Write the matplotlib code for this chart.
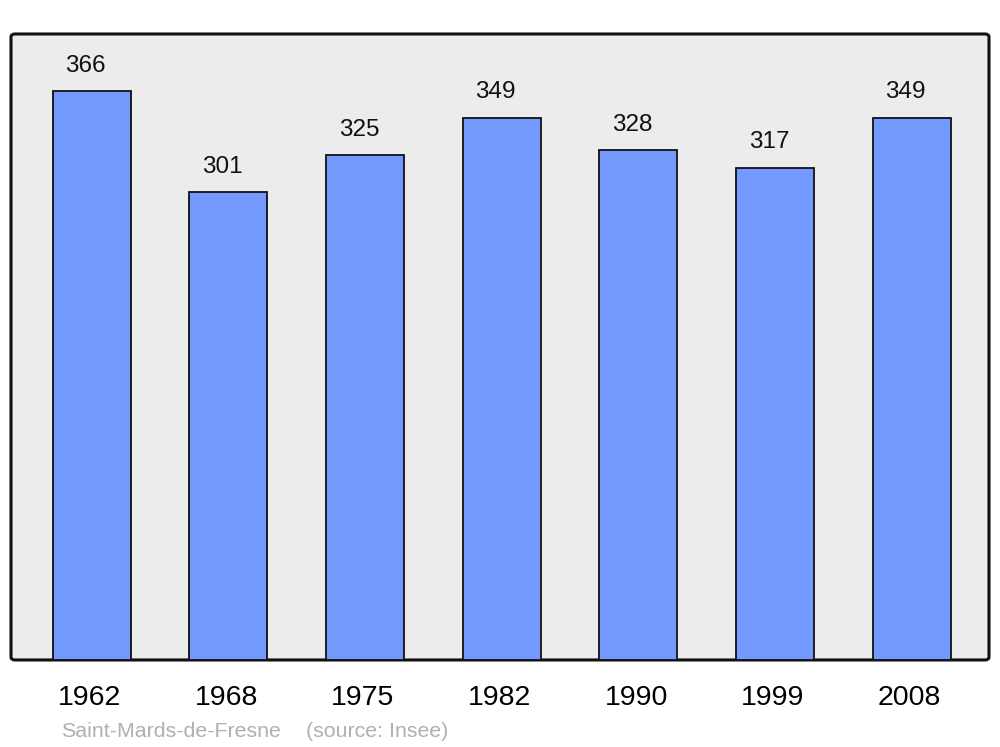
import matplotlib.pyplot as plt
from matplotlib.patches import FancyBboxPatch
import matplotlib.transforms as mtransforms

# ─── DATA ──────────────────────────────────────────────────────────────────
years  = ["1962", "1968", "1975", "1982", "1990", "1999", "2008"]
values = [366, 301, 325, 349, 328, 317, 349]
commune = "Saint-Mards-de-Fresne"
source  = "(source: Insee)"
# ────────────────────────────────────────────────────────────────────────────

plt.rcParams['font.family'] = ['Liberation Sans', 'DejaVu Sans']

fig = plt.figure(figsize=(10, 7.47), dpi=100)
ax = fig.add_axes([0.011, 0.1165, 0.978, 0.838])
ax.set_facecolor('none')

# rounded frame behind the bars
frame = FancyBboxPatch((0.011, 0.1165), 0.978, 0.838,
                       boxstyle="round,pad=0,rounding_size=0.004",
                       transform=fig.transFigure, facecolor='#ececec',
                       edgecolor='#111111', linewidth=2.2, zorder=0,
                       clip_on=False)
ax.add_patch(frame)

x = range(len(years))
ax.bar(x, values, width=0.57, color='#7399ff', edgecolor='#111111',
       linewidth=1.3, zorder=2)

ax.set_xlim(-0.59, 6.565)
ax.set_ylim(0, 403)
for s in ax.spines.values():
    s.set_visible(False)
ax.set_xticks([])
ax.set_yticks([])

# value labels above the bars (sit a bit left of centre in the original)
for xi, v in zip(x, values):
    ax.annotate(str(v), (xi, v), xytext=(-4.3, 14), textcoords='offset points',
                ha='center', va='baseline', fontsize=17.5, color='#111111')

# year labels under the axes
trans = mtransforms.blended_transform_factory(ax.transData, fig.transFigure)
offset = mtransforms.offset_copy(trans, fig=fig, x=-1.5, units='points')
for xi, y in zip(x, years):
    ax.text(xi, 0.066, y, transform=offset, ha='center', va='center',
            fontsize=20.5, color='#000000')

fig.text(0.061, 0.021, commune, ha='left', va='center', fontsize=15.4,
         color='#b0b0b0')
fig.text(0.306, 0.021, source, ha='left', va='center', fontsize=15.4,
         color='#b0b0b0')

fig.savefig('out.png', dpi=100)
